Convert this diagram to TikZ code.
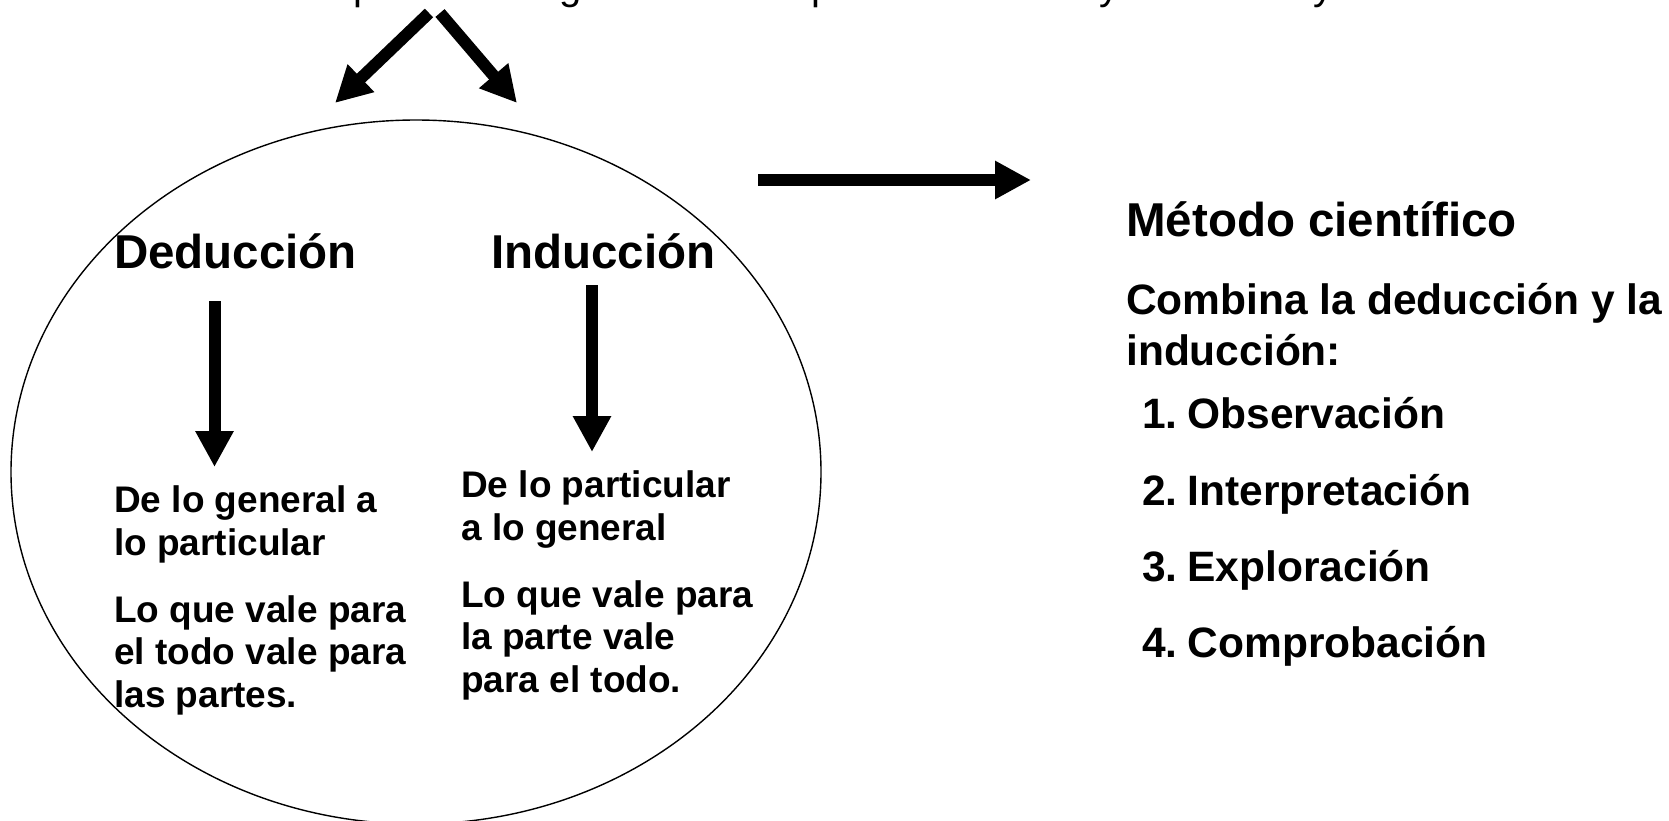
\documentclass[tikz,border=0pt]{standalone}
\usepackage{fontspec}
\setmainfont{Liberation Sans}
\usetikzlibrary{arrows.meta}
\begin{document}
\begin{tikzpicture}[x=1pt,y=-1pt,
  bigarrow/.style={line width=12pt, -{Triangle[length=36pt,width=36pt]}},
  frag/.style={anchor=base west, inner sep=0pt, font=\fontsize{40}{40}\selectfont},
  ttl/.style={anchor=base west, inner sep=0pt, font=\bfseries\fontsize{47.5}{47.5}\selectfont},
  mid/.style={anchor=base west, inner sep=0pt, font=\bfseries\fontsize{42.5}{42.5}\selectfont},
  small/.style={anchor=base west, inner sep=0pt, font=\bfseries\fontsize{37}{37}\selectfont},
  ring/.style={draw, line width=1.4pt}]
\useasboundingbox (0,0) rectangle (1669,820);
\clip (0,0) rectangle (1669,820);

% clipped title line (only descenders visible)
\node[frag] (f1) at (353,-0.5) {p};
\node[frag] (f2) at (559,-0.5) {g};
\node[frag] (f3) at (811,-0.5) {p};
\node[frag] (f4) at (1099,-0.5) {y};
\node[frag] (f5) at (1313,-0.5) {y};

% ellipse
\draw[ring] (416,472) ellipse [x radius=405, y radius=352];

% top arrows
\coordinate (tl0) at (429,13);
\coordinate (tl1) at (335,103);
\coordinate (tr0) at (440,13);
\coordinate (tr1) at (517,103);
\draw[bigarrow] (tl0) -- (tl1);
\draw[bigarrow] (tr0) -- (tr1);

% horizontal arrow
\coordinate (h0) at (758,180);
\coordinate (h1) at (1031,180);
\draw[bigarrow] (h0) -- (h1);

% headings
\node[ttl] (ded) at (114,268) {Deducción};
\node[ttl] (ind) at (491,268) {Inducción};

% vertical arrows
\coordinate (dv0) at (214.5,301);
\coordinate (dv1) at (214.5,467);
\coordinate (iv0) at (592,285);
\coordinate (iv1) at (592,452);
\draw[bigarrow] (dv0) -- (dv1);
\draw[bigarrow] (iv0) -- (iv1);

% left column
\node[small] (l1) at (114,512) {De lo general a};
\node[small] (l2) at (114,555) {lo particular};
\node[small] (l3) at (114,622) {Lo que vale para};
\node[small] (l4) at (114,664) {el todo vale para};
\node[small] (l5) at (114,707) {las partes.};

% right column
\node[small] (r1) at (461,497) {De lo particular};
\node[small] (r2) at (461,540) {a lo general};
\node[small] (r3) at (461,607) {Lo que vale para};
\node[small] (r4) at (461,649) {la parte vale};
\node[small] (r5) at (461,692) {para el todo.};

% scientific method
\node[ttl] (met) at (1126,236) {Método científico};
\node[mid] (c1) at (1126,314) {Combina la deducción y la};
\node[mid] (c2) at (1126,365) {inducción:};
\node[mid] (s1) at (1142,428) {1.\hspace{10pt}Observación};
\node[mid] (s2) at (1142,505) {2.\hspace{10pt}Interpretación};
\node[mid] (s3) at (1142,581) {3.\hspace{10pt}Exploración};
\node[mid] (s4) at (1142,657) {4.\hspace{10pt}Comprobación};
\end{tikzpicture}
\end{document}
